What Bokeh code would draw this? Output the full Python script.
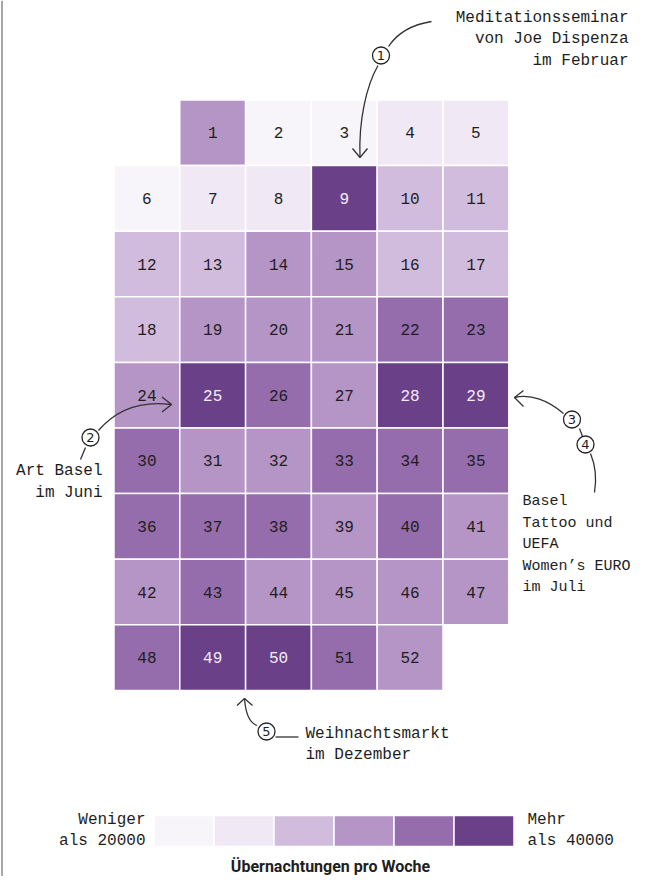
from bokeh.plotting import figure
from bokeh.models import Range1d, ColumnDataSource
from bokeh.core.properties import value
from bokeh.embed import file_html
from bokeh.resources import INLINE

# ---------------- data ----------------
weeks = list(range(1, 53))
levels = [3, 0, 0, 1, 1,
          0, 1, 1, 5, 2, 2,
          2, 2, 3, 3, 2, 2,
          2, 3, 3, 3, 4, 4,
          3, 5, 4, 3, 5, 5,
          4, 3, 3, 4, 4, 4,
          4, 4, 4, 3, 4, 3,
          3, 4, 3, 3, 3, 3,
          4, 5, 5, 4, 3]
palette = ["#f8f5fa", "#f0e9f5", "#d2bcdd", "#b594c6", "#956cac", "#6a4088"]
legend_low = ["Weniger", "als 20000"]
legend_high = ["Mehr", "als 40000"]
legend_title = "Übernachtungen pro Woche"
ann1 = ["Meditationsseminar", "von Joe Dispenza", "im Februar"]
ann2 = ["Art Basel", "im Juni"]
ann34 = ["Basel", "Tattoo und", "UEFA", "Women’s EURO", "im Juli"]
ann5 = ["Weihnachtsmarkt", "im Dezember"]

MONO = value("Liberation Mono")
DARK = "#1e1e1e"
LINE = "#333333"

# ---------------- figure ----------------
W, H = 633, 876
p = figure(width=W, height=H, x_range=Range1d(0, W), y_range=Range1d(H, 0),
           x_axis_type=None, y_axis_type=None, toolbar_location=None,
           output_backend="svg", min_border=0)
p.grid.visible = False
p.outline_line_color = None
p.background_fill_color = "white"
p.border_fill_color = "white"

# left rule
p.segment(x0=[1.5], y0=[0], x1=[1.5], y1=[H], line_color="#8a8a8a", line_width=1.5)

# ---------------- grid of weeks ----------------
X0, CW, Y0, CH = 113.5, 65.8, 99.5, 65.6
cols = [w % 6 for w in weeks]
rows = [w // 6 for w in weeks]
src = ColumnDataSource(dict(
    x=[X0 + (c + 0.5) * CW for c in cols],
    y=[Y0 + (r + 0.5) * CH for r in rows],
    fill=[palette[l] for l in levels],
    label=[str(w) for w in weeks],
    tcol=["#f3eef7" if l == 5 else DARK for l in levels],
))
p.rect(x="x", y="y", width=CW, height=CH, fill_color="fill", line_color="white",
       line_width=1.5, source=src)
p.text(x="x", y="y", text="label", text_color="tcol", text_align="center",
       text_baseline="middle", text_font=MONO, text_font_size="16px", source=src)

# ---------------- legend ----------------
LX0, LW, LY, LH = 153.5, 60, 815, 31
p.rect(x=[LX0 + (i + 0.5) * LW for i in range(len(palette))],
       y=[LY + LH / 2] * len(palette), width=LW, height=LH,
       fill_color=palette, line_color="white", line_width=1.5)
p.text(x=[145] * 2, y=[819, 840], text=legend_low, text_align="right",
       text_baseline="middle", text_font=MONO, text_font_size="16px", text_color=DARK)
p.text(x=[527] * 2, y=[819, 840], text=legend_high, text_align="left",
       text_baseline="middle", text_font=MONO, text_font_size="16px", text_color=DARK)
p.text(x=[330], y=[866], text=[legend_title], text_align="center",
       text_baseline="middle", text_font=value("Roboto"), text_font_style="bold",
       text_font_size="16px", text_color=DARK)

# ---------------- annotations ----------------
LH2 = 21.5
def lines(xs, y0, txt, align, size="16px"):
    p.text(x=[xs] * len(txt), y=[y0 + i * LH2 for i in range(len(txt))], text=txt,
           text_align=align, text_baseline="middle", text_font=MONO,
           text_font_size=size, text_color=DARK)

lines(628, 17, ann1, "right")
lines(102, 470.5, ann2, "right")
lines(522, 501, ann34, "left", "15px")
lines(305, 733, ann5, "left")

# curves
p.bezier(x0=[388, 377.5, 98, 563, 244, 590],
         y0=[46, 65, 430, 413, 698, 453],
         x1=[431, 359.5, 171, 514, 256.5, 594],
         y1=[21, 157, 404, 397, 725, 492],
         cx0=[398, 366, 115, 548, 245, 595],
         cy0=[31, 85, 410, 400, 712, 465],
         cx1=[412, 358, 140, 530, 248, 596],
         cy1=[24, 120, 400, 393, 722, 480],
         line_color=LINE, line_width=1.3)
# straight connectors
p.segment(x0=[85, 579, 275], y0=[447, 428, 736.5], x1=[80, 582, 298], y1=[459, 436, 736.5],
          line_color=LINE, line_width=1.3)
# arrow heads
p.multi_line(xs=[[352, 359.5, 367], [161.5, 171, 161.5], [523, 514, 523], [236.5, 244, 252]],
             ys=[[148, 157, 148], [396.5, 404, 411.5], [390, 397, 406], [705, 698, 705]],
             line_color=LINE, line_width=1.3)
# numbered circles
cx = [380.5, 90, 571.5, 585, 266]
cy = [55, 437, 419, 444, 731]
p.circle(x=cx, y=cy, radius=8.5, fill_color="white", line_color="#222222", line_width=1.3)
p.text(x=cx, y=cy, text=["1", "2", "3", "4", "5"], text_align="center",
       text_baseline="middle", text_font=value("DejaVu Sans"), text_font_size="13px",
       text_color=DARK)

open("out.html", "w").write(file_html(p, INLINE))
